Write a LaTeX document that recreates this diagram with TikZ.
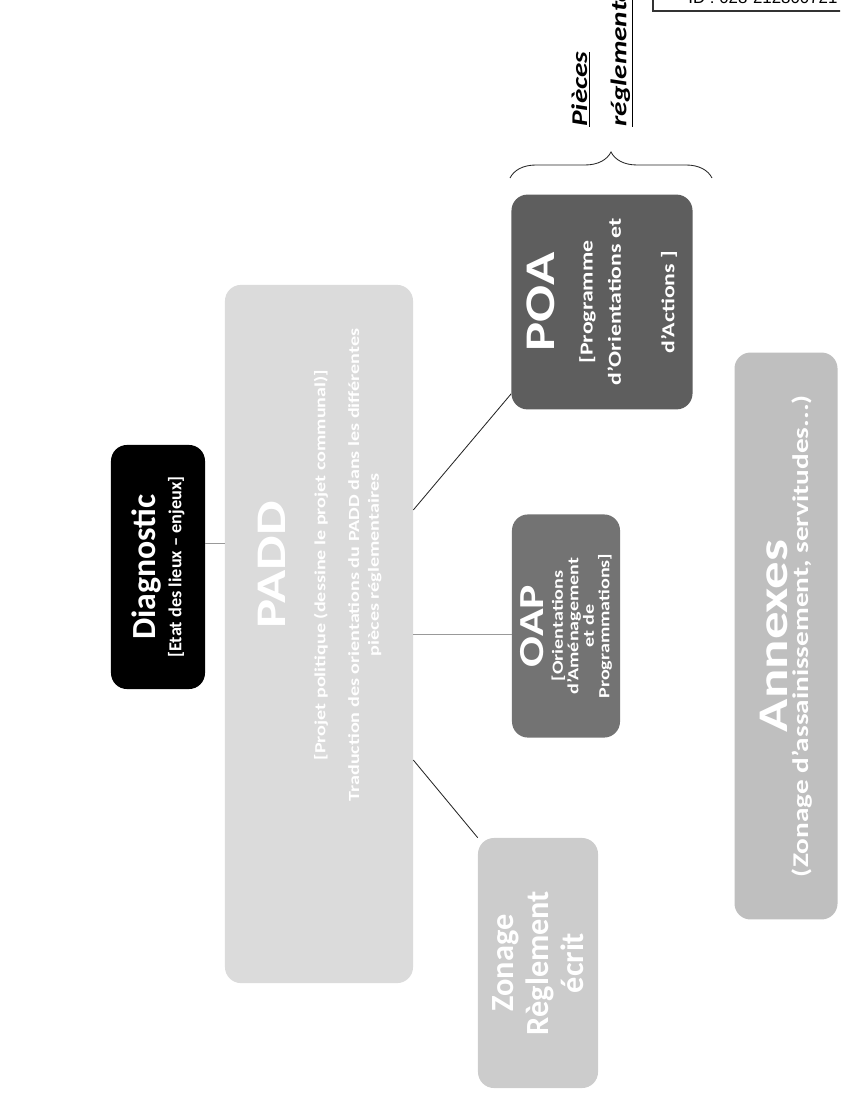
\documentclass[tikz,border=0pt]{standalone}
\usepackage{fontspec}
\setmainfont{Carlito}
\newfontfamily\stampfont{Liberation Sans}
\usetikzlibrary{positioning,decorations.pathreplacing}

\begin{document}
\begin{tikzpicture}[
    x=0.025cm, y=-0.025cm,
    piece/.style={rectangle, rounded corners=0.4cm, rotate=90, align=center, text=white, font=\bfseries, inner sep=2pt},
    stretch/.style={xscale=1.3},
    link/.style={black!85, line width=0.6pt},
    faint/.style={black!40, line width=0.5pt},
    stamp/.style={rectangle, draw=black!80, line width=1.3pt, anchor=south west, align=left, font=\stampfont\fontsize{12}{14}\selectfont}
]
    \useasboundingbox (0,0) rectangle (840,1108);
    \clip (0,0) rectangle (840,1108);

    % Diagnostic box
    \node[piece, fill=black, minimum width=6.1cm, minimum height=2.35cm] (diag) at (158,567) {
        {\fontsize{24}{28}\selectfont Diagnostic}\\[4pt]
        {\fontsize{13}{16}\selectfont [Etat des lieux – enjeux]}
    };

    % PADD box and its text
    \node[piece, fill=black!14, minimum width=17.45cm, minimum height=4.7cm] (padd) at (319,634) {};
    \node[piece, stretch, font=\bfseries\fontsize{11}{14}\selectfont] (padd text) at (320,565) {
        {\fontsize{30}{32}\selectfont PADD}\\[14pt]
        [Projet politique (dessine le projet communal)]\\[10pt]
        Traduction des orientations du PADD dans les différentes\\
        pièces réglementaires
    };

    % Zonage box
    \node[piece, fill=black!20, minimum width=6.25cm, minimum height=3.0cm, font=\bfseries\fontsize{23}{25}\selectfont] (zonage) at (538,963) {
        Zonage\\
        Règlement\\
        écrit
    };

    % OAP box
    \node[piece, stretch, fill=black!55, minimum width=4.29cm, minimum height=2.7cm, font=\bfseries\fontsize{11}{11}\selectfont] (oap) at (566,626) {
        {\fontsize{25}{26}\selectfont OAP}\\[3pt]
        [Orientations\\
        d'Aménagement\\
        et de\\
        Programmations]
    };

    % POA box
    \node[piece, stretch, fill=black!63, minimum width=4.13cm, minimum height=4.525cm, font=\bfseries\fontsize{13}{20}\selectfont] (poa) at (602,302) {
        {\fontsize{30}{32}\selectfont POA}\\[7pt]
        [Programme\\
        d'Orientations et\\[18pt]
        d'Actions ]
    };

    % Annexes box
    \node[piece, stretch, fill=black!25, minimum width=10.9cm, minimum height=2.575cm] (annexes) at (786,636) {
        {\fontsize{30}{34}\selectfont Annexes}\\[2pt]
        {\fontsize{16}{18}\selectfont (Zonage d'assainissement, servitudes...)}
    };

    % Brace over the regulatory pieces
    \coordinate (bl) at (510,178);
    \coordinate (br) at (712,178);
    \draw[link, decorate, decoration={brace, amplitude=0.65cm}] (bl) -- (br);
    \node[rotate=90, stretch, anchor=north west, align=left, inner sep=0pt, font=\bfseries\itshape\fontsize{16}{28}\selectfont] (pieces) at (571,127) {
        \underline{Pièces}\\
        \underline{réglementaires}
    };

    % Stamp
    \node[stamp, minimum width=5.5cm, text height=0.6cm, text depth=0.15cm, inner ysep=0.04cm, inner xsep=0.3cm] (idbox) at (652,12) {ID : 028-212800721};

    % Links
    \coordinate (d1) at ([yshift=0.6cm]diag.south);
    \draw[faint] (d1) -- (d1 -| padd.north);
    \coordinate (p1) at ([yshift=3.1cm]padd.south);
    \coordinate (p2) at ([yshift=-3.15cm]padd.south);
    \draw[link] (p1) -- ([yshift=0.4cm]poa.north west);
    \draw[faint] (padd.south) -- (padd.south -| oap.north);
    \draw[link] (p2) -- (zonage.north east);
\end{tikzpicture}
\end{document}
